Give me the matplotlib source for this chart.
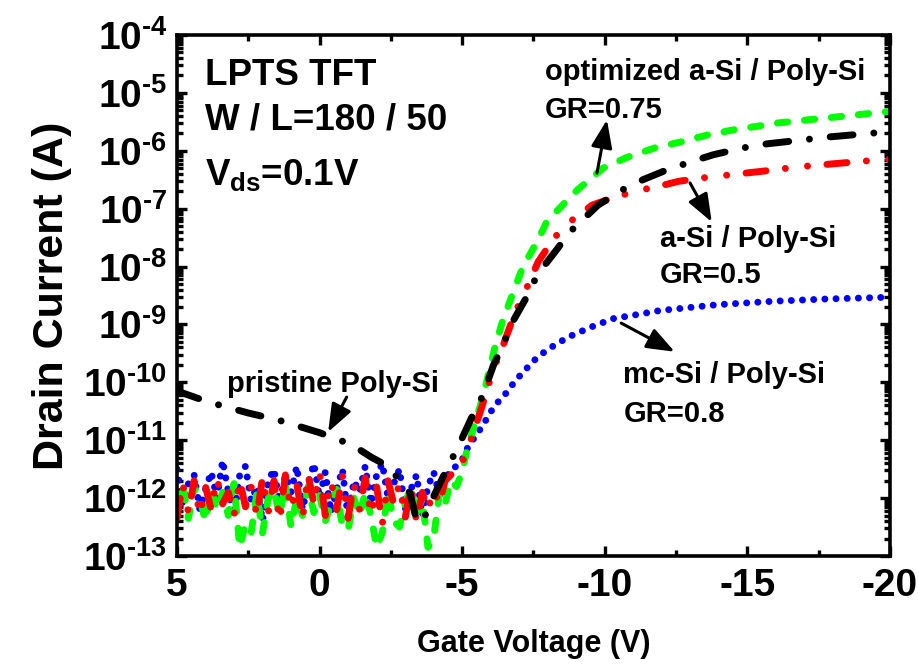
import numpy as np
import matplotlib
matplotlib.use("Agg")
import matplotlib.pyplot as plt
from matplotlib.ticker import LogLocator, MultipleLocator, FixedLocator, NullFormatter, FuncFormatter

plt.rcParams['font.family'] = 'Liberation Sans'
plt.rcParams['font.weight'] = 'bold'
plt.rcParams['axes.unicode_minus'] = False
plt.rcParams['mathtext.fontset'] = 'custom'
plt.rcParams['mathtext.rm'] = 'Liberation Sans:bold'
plt.rcParams['mathtext.it'] = 'Liberation Sans:bold'
plt.rcParams['mathtext.bf'] = 'Liberation Sans:bold'

# ~~~~~~~~~~~~~~~~~~~~~~~~~~~~~~~~~~~~~~~~~~~~~~~~~~~~~~~~
# Off-state sweep (5 V .. -4.6 V, 0.2 V step), log10(I)
v_off = np.linspace(5.0, -4.6, 49)

red_off = [-12.35, -11.75, -12.25, -11.7, -12.3, -11.8, -12.2, -11.65, -12.1, -11.9,
           -12.3, -11.7, -12.15, -11.8, -12.3, -11.65, -12.25, -11.7, -12.4, -11.6,
           -12.2, -11.75, -12.35, -11.6, -12.1, -11.55, -12.3, -11.7, -12.2, -11.6,
           -12.35, -11.75, -12.2, -11.65, -12.3, -11.8, -12.45, -11.7, -12.1, -11.75,
           -12.35, -11.8, -12.4, -11.9, -12.2, -11.85, -12.1, -11.7, -11.6]
green_off = [-12.1, -11.75, -12.35, -11.8, -12.0, -12.4, -11.85, -12.2, -11.9, -12.3,
             -11.75, -12.85, -12.45, -12.6, -11.9, -12.6, -12.0, -11.85, -12.3, -11.75,
             -12.5, -12.0, -12.3, -11.8, -12.25, -11.95, -12.4, -12.1, -11.85, -12.5,
             -12.55, -12.0, -12.3, -11.9, -12.3, -12.85, -12.6, -11.9, -12.4, -12.5,
             -12.1, -11.8, -12.3, -12.0, -12.85, -12.7, -11.9, -12.1, -11.7]
blue_off = [-11.5, -12.1, -11.75, -11.6, -12.2, -11.85, -11.55, -12.0, -11.35, -11.9,
            -12.3, -11.6, -11.45, -12.05, -11.8, -12.4, -11.7, -11.5, -12.1, -11.6,
            -11.9, -11.45, -12.2, -11.75, -11.4, -12.0, -11.55, -12.25, -11.85, -11.5,
            -12.35, -11.7, -11.9, -11.45, -12.1, -11.6, -11.4, -12.0, -11.75, -11.5,
            -12.2, -11.85, -11.6, -12.3, -11.8, -11.55, -11.95, -11.7, -11.5]

# On-state part of each curve (gate voltage, log10 I)
red_on_v = [-4.8, -5.1, -5.34, -5.62, -5.8, -6.08, -6.4, -6.85, -7.31, -7.66, -8.25, -8.85,
            -9.55, -10.36, -11.23, -11.76, -12.57, -13.4, -14.5, -15.6, -16.74, -19.54, -20.0]
red_on = [-11.5, -11.29, -10.94, -10.53, -10.25, -9.79, -9.41, -8.80, -8.32, -7.92, -7.49,
          -7.2, -6.94, -6.80, -6.68, -6.63, -6.53, -6.47, -6.41, -6.35, -6.28, -6.16, -6.15]

green_on_v = [-4.8, -4.99, -5.17, -5.45, -5.73, -5.94, -6.15, -6.43, -6.78, -7.13, -7.62,
              -7.97, -9.03, -9.94, -10.8, -11.76, -12.64, -13.58, -14.5, -15.44, -16.07, -20.0]
green_on = [-11.8, -11.56, -11.17, -10.70, -10.25, -9.82, -9.39, -8.92, -8.46, -8.0, -7.58,
            -7.22, -6.68, -6.30, -6.11, -5.95, -5.85, -5.73, -5.64, -5.57, -5.52, -5.32]

blue_on_v = [-4.8, -5.03, -5.2, -5.45, -5.73, -5.97, -6.22, -6.57, -6.85, -7.2, -7.55, -7.97,
             -8.71, -9.55, -10.29, -11.13, -11.94, -13.93, -15.9, -17.8, -20.0]
blue_on = [-11.45, -11.31, -11.12, -10.94, -10.74, -10.53, -10.36, -10.17, -9.98, -9.79, -9.61,
           -9.44, -9.22, -9.04, -8.9, -8.83, -8.76, -8.66, -8.6, -8.56, -8.53]

# pristine Poly-Si (whole sweep)
black_v = [5.0, 3.9, 2.5, 1.46, 0.0, -1.14, -1.8, -2.4, -3.17, -3.42, -3.77, -3.94, -4.5,
           -4.85, -5.34, -5.7, -6.1, -6.4, -6.75, -7.2, -7.66, -8.25, -8.78, -9.76, -10.6,
           -11.34, -12.18, -13.09, -13.8, -14.85, -15.7, -17.9, -20.0]
black_i = [-10.15, -10.34, -10.53, -10.65, -10.87, -11.08, -11.29, -11.45, -11.91, -12.43,
           -12.26, -12.03, -11.46, -11.12, -10.6, -10.25, -9.7, -9.39, -8.97, -8.58, -8.12,
           -7.75, -7.40, -6.94, -6.68, -6.50, -6.33, -6.18, -6.07, -5.95, -5.88, -5.76, -5.67]

# ~~~~~~~~~~~~~~~~~~~~~~~~~~~~~~~~~~~~~~~~~~~~~~~~~~~~~~~~
fig = plt.figure(figsize=(9.18, 6.71), dpi=100)
ax = fig.add_axes([0.1928, 0.1714, 0.7767, 0.7765])

lw = 5
red_v = np.concatenate([v_off, red_on_v])
red_i = 10 ** np.concatenate([red_off, red_on])
green_v = np.concatenate([v_off, green_on_v])
green_i = 10 ** np.concatenate([green_off, green_on])
blue_v = np.concatenate([v_off, blue_on_v])
blue_i = 10 ** np.concatenate([blue_off, blue_on])

ax.plot(blue_v, blue_i, color='#0000ff', lw=lw, linestyle=(0, (0.01, 1.6)),
        dash_capstyle='round')
ax.plot(green_v, green_i, color='#00ff00', lw=lw, linestyle=(0, (1.5, 2.4)),
        dash_capstyle='round')
ax.plot(red_v, red_i, color='#ff0000', lw=lw, linestyle=(0, (2.9, 2.8, 0.01, 3.2, 0.01, 2.8)),
        dash_capstyle='round')
ax.plot(black_v, 10 ** np.array(black_i), color='black', lw=lw,
        linestyle=(0, (3.3, 3.0, 0.01, 3.0)), dash_capstyle='round')

ax.set_yscale('log')
ax.set_xlim(5, -20)
ax.set_ylim(1e-13, 1e-4)

ax.xaxis.set_major_locator(FixedLocator([5, 0, -5, -10, -15, -20]))
ax.xaxis.set_minor_locator(MultipleLocator(2.5))
ax.yaxis.set_major_locator(LogLocator(base=10, numticks=20))
ax.yaxis.set_minor_locator(LogLocator(base=10, subs=np.arange(2, 10), numticks=20))
ax.yaxis.set_minor_formatter(NullFormatter())
ax.yaxis.set_major_formatter(FuncFormatter(
    lambda v, p: r'10$^{\text{-%d}}$' % round(-np.log10(v))))

for s in ax.spines.values():
    s.set_linewidth(2.6)
ax.tick_params(which='both', direction='in', top=True, right=True, width=2.4)
ax.tick_params(which='major', length=7, labelsize=28)
ax.tick_params(which='minor', length=4)
ax.tick_params(axis='x', pad=9)
ax.tick_params(axis='y', pad=7)

ax.set_xlabel('Gate Voltage (V)', fontsize=22, fontweight='bold', labelpad=18)
ax.set_ylabel('Drain Current (A)', fontsize=31, fontweight='bold', labelpad=8)

tr = ax.transAxes
ax.text(0.039, 0.904, 'LPTS TFT', transform=tr, fontsize=26.5)
ax.text(0.039, 0.818, 'W / L=180 / 50', transform=tr, fontsize=26.5)
ax.text(0.039, 0.712, r'V$_{\mathregular{ds}}$=0.1V', transform=tr, fontsize=26.5)

ax.text(0.516, 0.914, 'optimized a-Si / Poly-Si', transform=tr, fontsize=21)
ax.text(0.516, 0.841, 'GR=0.75', transform=tr, fontsize=21)
ax.text(0.677, 0.593, 'a-Si / Poly-Si', transform=tr, fontsize=21)
ax.text(0.677, 0.524, 'GR=0.5', transform=tr, fontsize=21)
ax.text(0.626, 0.332, 'mc-Si / Poly-Si', transform=tr, fontsize=21)
ax.text(0.626, 0.257, 'GR=0.8', transform=tr, fontsize=21)
ax.text(0.070, 0.315, 'pristine Poly-Si', transform=tr, fontsize=21)

arrow = dict(arrowstyle='-|>,head_length=1.0,head_width=0.38', color='black', lw=2.2,
             mutation_scale=17, shrinkA=0, shrinkB=0)
ax.annotate('', xy=(0.603, 0.837), xytext=(0.589, 0.735), xycoords=tr, textcoords=tr, arrowprops=arrow)
ax.annotate('', xy=(0.750, 0.641), xytext=(0.7195, 0.716), xycoords=tr, textcoords=tr, arrowprops=arrow)
ax.annotate('', xy=(0.698, 0.392), xytext=(0.623, 0.447), xycoords=tr, textcoords=tr, arrowprops=arrow)
ax.annotate('', xy=(0.212, 0.238), xytext=(0.238, 0.305), xycoords=tr, textcoords=tr, arrowprops=arrow)

fig.savefig('out.png', dpi=100)
